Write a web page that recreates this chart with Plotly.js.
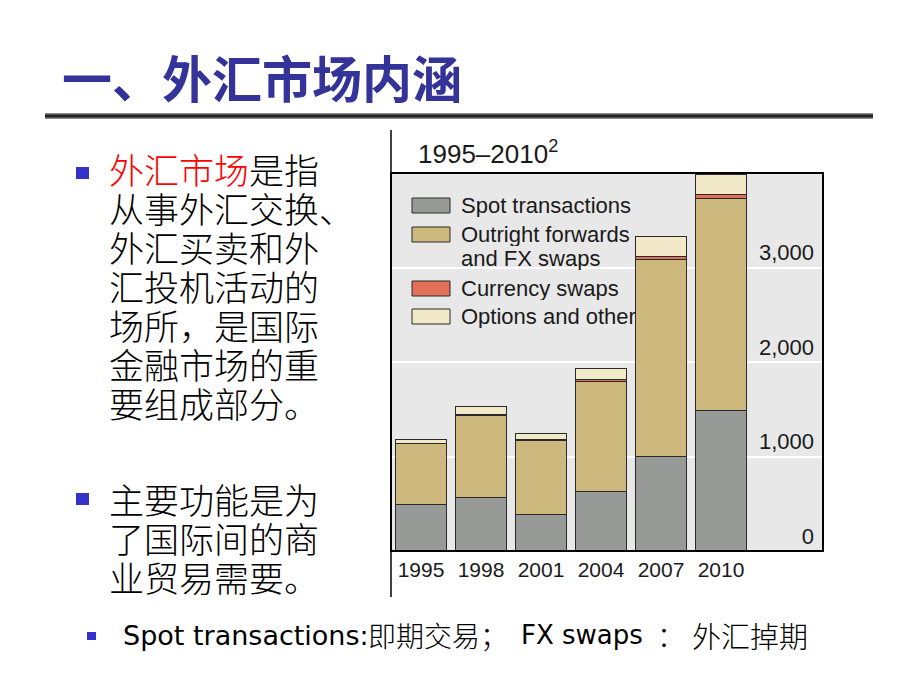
<!DOCTYPE html>
<html>
<head>
<meta charset="utf-8">
<script src="https://cdn.plot.ly/plotly-3.0.1.min.js"></script>
<style>html,body{margin:0;padding:0;background:#fff;}#chart{width:920px;height:690px;}</style>
</head>
<body>
<div id="chart"></div>
<script>
// ---- data ----
const years = ['1995', '1998', '2001', '2004', '2007', '2010'];
const spot = [494, 568, 386, 631, 1005, 1490];
const outrightFxSwaps = [643, 862, 786, 1163, 2076, 2240];
const currencySwaps = [4, 10, 7, 21, 31, 43];
const optionsOther = [41, 87, 60, 119, 212, 207];
const seriesNames = ['Spot transactions', 'Outright forwards and FX swaps', 'Currency swaps', 'Options and other'];
const legendLabels = ['Spot transactions', 'Outright forwards<br>and FX swaps', 'Currency swaps', 'Options and other'];
const yTickVals = [0, 1000, 2000, 3000];
const yTickText = ['0', '1,000', '2,000', '3,000'];
const chartTitle = '1995–2010<sup>2</sup>';
const slideTitle = '一、外汇市场内涵';
const bullet1 = ['<span style="color:#ff0000">外汇市场</span>是指', '从事外汇交换、', '外汇买卖和外', '汇投机活动的', '场所，是国际', '金融市场的重', '要组成部分。'];
const bullet2 = ['主要功能是为', '了国际间的商', '业贸易需要。'];
const footParts = ['Spot transactions:', '即期交易；', 'FX swaps', '：', '外汇掉期'];

// ---- style ----
const colors = ['#989a98', '#cdb87e', '#e07058', '#f2e9c8'];
const W = 920, H = 690, ML = 391, MR = 97, MT = 173, MB = 139;
const PW = W - ML - MR, PH = H - MT - MB;
const px = x => (x - ML) / PW;
const py = y => (H - MB - y) / PH;

const values = [spot, outrightFxSwaps, currencySwaps, optionsOther];
const traces = values.map((v, i) => ({
  type: 'bar', x: years, y: v, name: seriesNames[i],
  marker: {color: colors[i], line: {color: '#2a2a2a', width: 1}},
  hoverinfo: 'x+y+name', showlegend: false
}));

const shapes = [];
const annotations = [];
const sansLat = 'Liberation Sans, Arial, sans-serif';
const cjk = 'Noto Sans CJK SC, sans-serif';

// chart frame
shapes.push({type: 'rect', xref: 'paper', yref: 'paper', x0: 0, x1: 1, y0: 0, y1: 1, line: {color: '#000', width: 2}, layer: 'above'});
shapes.push({type: 'line', xref: 'paper', yref: 'paper', x0: 0, x1: 0, y0: py(597), y1: py(130), line: {color: '#000', width: 1.5}});

// chart title
annotations.push({xref: 'paper', yref: 'paper', x: px(416), y: py(152), xanchor: 'left', yanchor: 'middle', showarrow: false,
  text: chartTitle, font: {family: sansLat, size: 26, color: '#1a1a1a'}});

// custom legend
const swY = [[198, 213], [227, 242], [281, 296], [309, 324]];
swY.forEach((r, i) => {
  shapes.push({type: 'rect', xref: 'paper', yref: 'paper', x0: px(412), x1: px(450), y0: py(r[1]), y1: py(r[0]),
    fillcolor: colors[i], line: {color: '#2a2a2a', width: 1}});
  const lines = legendLabels[i].split('<br>');
  lines.forEach((t, j) => {
    annotations.push({xref: 'paper', yref: 'paper', x: px(459), y: py((r[0] + r[1]) / 2 + j * 23.5), xanchor: 'left', yanchor: 'middle',
      showarrow: false, height: 23, valign: 'middle', text: t, font: {family: sansLat, size: 22, color: '#1a1a1a'}});
  });
});

// slide title + rule
annotations.push({xref: 'paper', yref: 'paper', x: px(60), y: py(76), xanchor: 'left', yanchor: 'middle', showarrow: false,
  text: '<b>' + slideTitle + '</b>', font: {family: cjk, size: 50, color: '#333399'}});
shapes.push({type: 'rect', xref: 'paper', yref: 'paper', x0: px(45), x1: px(873), y0: py(119), y1: py(113),
  fillcolor: '#8a8a8a', line: {width: 0}});
shapes.push({type: 'rect', xref: 'paper', yref: 'paper', x0: px(45), x1: px(873), y0: py(117.5), y1: py(114.5),
  fillcolor: '#222', line: {width: 0}});

// bullets text
const lineStep = 39;
const bodyFont = {family: cjk, size: 35, color: '#000', weight: 300};
bullet1.forEach((t, i) => {
  annotations.push({xref: 'paper', yref: 'paper', x: px(107), y: py(168 + i * lineStep), xanchor: 'left', yanchor: 'middle',
    showarrow: false, height: 38, valign: 'middle', text: t, font: bodyFont});
});
bullet2.forEach((t, i) => {
  annotations.push({xref: 'paper', yref: 'paper', x: px(107), y: py(498 + i * lineStep), xanchor: 'left', yanchor: 'middle',
    showarrow: false, height: 38, valign: 'middle', text: t, font: bodyFont});
});
[[167, 179], [493, 505]].forEach(r => {
  shapes.push({type: 'rect', xref: 'paper', yref: 'paper', x0: px(76), x1: px(89), y0: py(r[1]), y1: py(r[0]),
    fillcolor: '#3333cc', line: {width: 0}});
});

// footer line
shapes.push({type: 'rect', xref: 'paper', yref: 'paper', x0: px(87), x1: px(96), y0: py(640), y1: py(632),
  fillcolor: '#3333cc', line: {width: 0}});
const footX = [121, 366, 519, 655, 690];
const footFont = [
  {family: 'DejaVu Sans, sans-serif', size: 27, color: '#000'},
  {family: cjk, size: 28, color: '#000', weight: 300},
  {family: 'DejaVu Sans, sans-serif', size: 26, color: '#000'},
  {family: cjk, size: 28, color: '#000', weight: 300},
  {family: cjk, size: 29, color: '#000', weight: 300}
];
footParts.forEach((t, i) => {
  annotations.push({xref: 'paper', yref: 'paper', x: px(footX[i]), y: py(635), xanchor: 'left', yanchor: 'middle',
    showarrow: false, text: t, font: footFont[i]});
});

const layout = {
  width: W, height: H,
  margin: {l: ML, r: MR, t: MT, b: MB, pad: 0},
  paper_bgcolor: '#ffffff', plot_bgcolor: '#e8e8e8',
  barmode: 'stack', bargap: 0.14,
  showlegend: false,
  xaxis: {type: 'category', range: [-0.5, 6.7], showgrid: false, zeroline: false, showline: false, ticks: '',
    ticklabelstandoff: 4, tickfont: {family: sansLat, size: 21, color: '#1a1a1a'}, fixedrange: true},
  yaxis: {range: [0, 4000], side: 'right', tickvals: yTickVals, ticktext: yTickText, ticklabelposition: 'inside',
    ticklabelshift: -15, ticklabelstandoff: 6, showgrid: true, gridcolor: '#ffffff', gridwidth: 2, zeroline: false,
    showline: false, ticks: '', tickfont: {family: sansLat, size: 22, color: '#1a1a1a'}, fixedrange: true},
  shapes: shapes, annotations: annotations
};

Plotly.newPlot('chart', traces, layout, {displayModeBar: false, staticPlot: true});
</script>
</body>
</html>
